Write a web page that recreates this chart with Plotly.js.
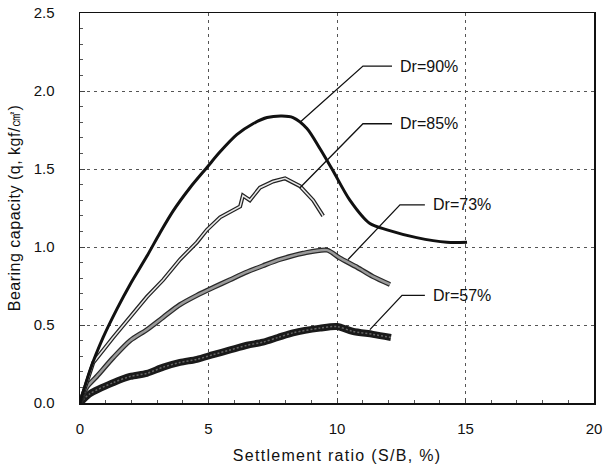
<!DOCTYPE html>
<html>
<head>
<meta charset="utf-8">
<script src="https://cdn.plot.ly/plotly-3.0.1.min.js"></script>
<style>
  html, body { margin: 0; padding: 0; background: #fff; }
  #chart { width: 603px; height: 470px; }
  /* wider tracking on the axis titles */
  #chart .xtitle { letter-spacing: 1.3px; }
  #chart .ytitle { letter-spacing: 0.5px; }
</style>
</head>
<body>
<div id="chart"></div>
<script>
// Load-settlement curves for four relative densities (S/B in %, q in kgf/㎠)
const dr90X = [0, 0.39, 0.9, 1.43, 1.95, 2.6, 3.11, 3.62, 4.28, 4.94, 5.45, 6.1, 6.73, 7.28, 7.86, 8.29, 8.83, 9.34, 9.84, 10.5, 11.28, 11.95, 13.1, 14.28, 15.06];
const dr90Y = [0, 0.21, 0.42, 0.60, 0.76, 0.94, 1.09, 1.23, 1.38, 1.51, 1.61, 1.72, 1.79, 1.83, 1.84, 1.83, 1.76, 1.63, 1.49, 1.30, 1.15, 1.11, 1.06, 1.03, 1.03];

const dr85X = [0, 0.3, 0.52, 1.29, 1.95, 2.6, 3.24, 3.89, 4.55, 4.94, 5.45, 6.23, 6.34, 6.61, 7.0, 7.51, 7.98, 8.56, 9.07, 9.46];
const dr85Y = [0, 0.15, 0.26, 0.42, 0.55, 0.68, 0.79, 0.92, 1.03, 1.11, 1.19, 1.26, 1.33, 1.30, 1.38, 1.42, 1.44, 1.39, 1.30, 1.20];

const dr73X = [0, 0.26, 0.65, 1.29, 1.95, 2.6, 3.24, 3.89, 4.55, 5.18, 5.84, 6.5, 7.12, 7.78, 8.68, 9.61, 10.1, 10.78, 11.4, 12.06];
const dr73Y = [0, 0.10, 0.17, 0.29, 0.40, 0.47, 0.55, 0.63, 0.69, 0.74, 0.79, 0.84, 0.88, 0.92, 0.96, 0.98, 0.93, 0.87, 0.81, 0.76];

const dr57X = [0, 0.39, 1.29, 1.95, 2.6, 3.24, 3.89, 4.55, 5.18, 5.84, 6.5, 7.12, 7.7, 8.29, 9.34, 10.0, 10.6, 11.4, 12.1];
const dr57Y = [0, 0.06, 0.13, 0.17, 0.19, 0.23, 0.26, 0.28, 0.31, 0.34, 0.37, 0.39, 0.42, 0.45, 0.48, 0.49, 0.46, 0.44, 0.42];

const curveLabels = ['Dr=90%', 'Dr=85%', 'Dr=73%', 'Dr=57%'];
const xTicks = [0, 5, 10, 15, 20];
const yTicks = [0.0, 0.5, 1.0, 1.5, 2.0, 2.5];
const yTickText = ['0.0', '0.5', '1.0', '1.5', '2.0', '2.5'];

// Leader-line anchors: [tail on curve, elbow, end at label]
const leaders = [
  [[8.56, 1.80], [11.01, 2.16], [12.14, 2.16]],
  [[8.56, 1.38], [11.01, 1.79], [12.14, 1.79]],
  [[10.43, 0.92], [12.45, 1.27], [13.42, 1.27]],
  [[11.28, 0.47], [12.53, 0.69], [13.42, 0.69]]
];

const FONT = 'Liberation Sans, Arial, sans-serif';

const traces = [
  // Dr=57%: heavy band with a speckled core
  { x: dr57X, y: dr57Y, mode: 'lines', line: { color: '#1a1a1a', width: 7, shape: 'spline', smoothing: 0.8 }, hoverinfo: 'skip' },
  { x: dr57X, y: dr57Y, mode: 'lines', line: { color: '#666', width: 1.5, dash: '2px,2px', shape: 'spline', smoothing: 0.8 }, hoverinfo: 'skip' },
  // Dr=73%: dark outline with grey core
  { x: dr73X, y: dr73Y, mode: 'lines', line: { color: '#2a2a2a', width: 5, shape: 'spline', smoothing: 0.8 }, hoverinfo: 'skip' },
  { x: dr73X, y: dr73Y, mode: 'lines', line: { color: '#9a9a9a', width: 2.5, shape: 'spline', smoothing: 0.8 }, hoverinfo: 'skip' },
  // Dr=85%: hollow-marker look
  { x: dr85X, y: dr85Y, mode: 'lines', line: { color: '#222', width: 4 }, hoverinfo: 'skip' },
  { x: dr85X, y: dr85Y, mode: 'lines', line: { color: '#e8e8e8', width: 1.5 }, hoverinfo: 'skip' },
  // Dr=90%: solid black line
  { x: dr90X, y: dr90Y, mode: 'lines', line: { color: '#111', width: 3, shape: 'spline', smoothing: 0.8 }, hoverinfo: 'skip' }
];

const shapes = leaders.map(p => ({
  type: 'path',
  xref: 'x', yref: 'y',
  path: `M ${p[0][0]},${p[0][1]} L ${p[1][0]},${p[1][1]} L ${p[2][0]},${p[2][1]}`,
  line: { color: '#111', width: 1.3 }
}));

const annotations = leaders.map((p, i) => ({
  x: p[2][0] + 0.22, y: p[2][1],
  xref: 'x', yref: 'y',
  xanchor: 'left', yanchor: 'middle',
  text: curveLabels[i],
  showarrow: false,
  font: { family: FONT, size: 16, color: '#111' }
}));

const axisCommon = {
  showline: true, mirror: true, linecolor: '#111', linewidth: 1.5,
  showgrid: true, gridcolor: '#555', griddash: '3px,4px', gridwidth: 1,
  zeroline: false,
  ticks: 'inside', ticklen: 5, tickcolor: '#444',
  tickfont: { family: FONT, size: 15, color: '#111' }
};

const layout = {
  width: 603, height: 470,
  margin: { l: 80, r: 9, t: 13, b: 67 },
  paper_bgcolor: '#fff', plot_bgcolor: '#fff',
  showlegend: false,
  xaxis: Object.assign({}, axisCommon, {
    range: [0, 20], tickvals: xTicks, ticktext: xTicks.map(String),
    ticklabelstandoff: 11,
    minor: { dtick: 1, ticks: 'inside', ticklen: 3, tickcolor: '#555', showgrid: false },
    title: { text: 'Settlement ratio (S/B, %)', font: { family: FONT, size: 16, color: '#111' }, standoff: 14 }
  }),
  yaxis: Object.assign({}, axisCommon, {
    range: [0, 2.5], tickvals: yTicks, ticktext: yTickText,
    ticklabelstandoff: 21,
    minor: { dtick: 0.1, ticks: 'inside', ticklen: 3, tickcolor: '#555', showgrid: false },
    title: { text: 'Bearing capacity (q, kgf/㎠)', font: { family: FONT, size: 16, color: '#111' }, standoff: 9 }
  }),
  shapes: shapes,
  annotations: annotations
};

Plotly.newPlot('chart', traces, layout, { staticPlot: true, displayModeBar: false });
</script>
</body>
</html>
